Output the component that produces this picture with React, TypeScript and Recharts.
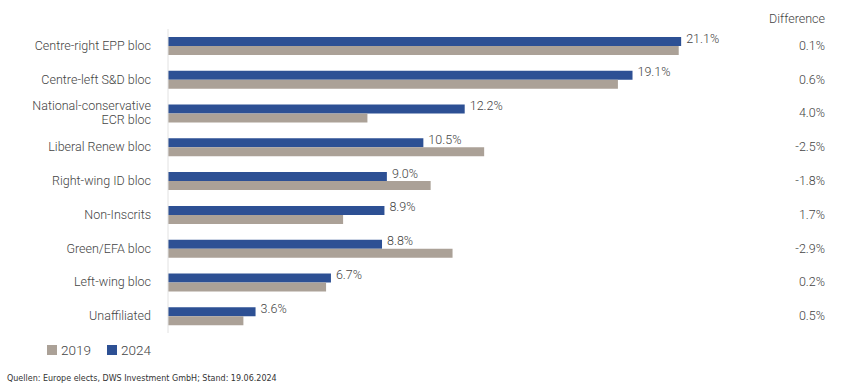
import { BarChart, Bar, XAxis, YAxis, LabelList } from "recharts";

const categories = [
  "Centre-right EPP bloc",
  "Centre-left S&D bloc",
  "National-conservative\nECR bloc",
  "Liberal Renew bloc",
  "Right-wing ID bloc",
  "Non-Inscrits",
  "Green/EFA bloc",
  "Left-wing bloc",
  "Unaffiliated",
];
const seats2024 = [21.1, 19.1, 12.2, 10.5, 9.0, 8.9, 8.8, 6.7, 3.6];
const seats2019 = [21.0, 18.5, 8.2, 13.0, 10.8, 7.2, 11.7, 6.5, 3.1];
const differences = ["0.1%", "0.6%", "4.0%", "-2.5%", "-1.8%", "1.7%", "-2.9%", "0.2%", "0.5%"];

const BLUE = "#2d5094";
const GREY = "#aba197";
const TEXT = "#444";
const FONT = "Roboto, 'Noto Sans', sans-serif";
const W = 300;

const rows = categories.map((name, i) => ({
  name,
  y2024: seats2024[i],
  y2019: seats2019[i],
  diff: differences[i],
}));

const LeftTick = (props: any) => {
  const { x, y, payload } = props;
  const lines = String(payload.value).split("\n");
  const start = -((lines.length - 1) * 14) / 2;
  return (
    <text x={x} y={y} textAnchor="end" fill={TEXT} fontSize={12.5} fontWeight={W} fontFamily={FONT}>
      {lines.map((l, i) => (
        <tspan key={i} x={x} dy={i === 0 ? start + 4 : 14}>
          {l}
        </tspan>
      ))}
    </text>
  );
};

const RightTick = (props: any) => {
  const { x, y, index } = props;
  return (
    <text x={x + 41} y={y + 4} textAnchor="end" fill={TEXT} fontSize={12.5} fontWeight={W} fontFamily={FONT}>
      {differences[index]}
    </text>
  );
};

const ValueLabel = (props: any) => {
  const { x, y, width, height, value } = props;
  return (
    <text x={x + width + 5} y={y + height / 2 + 1} textAnchor="start" fill={TEXT} fontSize={12.5} fontWeight={W} fontFamily={FONT}>
      {`${Number(value).toFixed(1)}%`}
    </text>
  );
};

const LegendBox = () => (
  <div style={{ position: "absolute", left: 47, top: 342, display: "flex", gap: 16, fontFamily: FONT, fontWeight: W, fontSize: 13.5, color: TEXT }}>
    {[
      { label: "2019", color: GREY },
      { label: "2024", color: BLUE },
    ].map((it) => (
      <div key={it.label} style={{ display: "flex", alignItems: "center", gap: 4 }}>
        <span style={{ display: "inline-block", width: 10, height: 10, background: it.color }} />
        <span>{it.label}</span>
      </div>
    ))}
  </div>
);

export default function App() {
  return (
    <div style={{ position: "absolute", left: 0, top: 0, width: 859, height: 389, background: "#fff" }}>
      <div style={{ position: "absolute", right: 34, top: 11, fontFamily: FONT, fontWeight: W, fontSize: 12.5, color: TEXT }}>
        Difference
      </div>
      <BarChart
        width={859}
        height={340}
        data={rows}
        layout="vertical"
        margin={{ top: 29, right: 0, left: 0, bottom: 7 }}
        barGap={0}
        barSize={9}
      >
        <XAxis type="number" domain={[0, 25]} hide />
        <YAxis
          yAxisId="left"
          type="category"
          dataKey="name"
          width={168}
          axisLine={{ stroke: "#e2e2e2" }}
          tickLine={false}
          tickMargin={11}
          tick={<LeftTick />}
          interval={0}
        />
        <YAxis
          yAxisId="right"
          orientation="right"
          type="category"
          dataKey="name"
          width={83}
          axisLine={false}
          tickLine={false}
          tick={<RightTick />}
          interval={0}
        />
        <Bar yAxisId="left" dataKey="y2024" fill={BLUE} isAnimationActive={false}>
          <LabelList dataKey="y2024" content={<ValueLabel />} />
        </Bar>
        <Bar yAxisId="left" dataKey="y2019" fill={GREY} isAnimationActive={false} />
      </BarChart>
      <LegendBox />
      <div style={{ position: "absolute", left: 7, top: 374, fontFamily: "'DejaVu Sans', sans-serif", fontSize: 8, color: "#333" }}>
        Quellen: Europe elects, DWS Investment GmbH; Stand: 19.06.2024
      </div>
    </div>
  );
}
